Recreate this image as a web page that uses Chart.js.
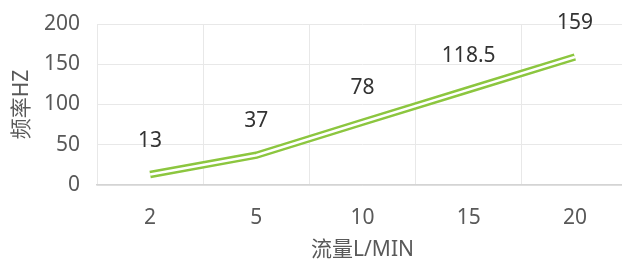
<!DOCTYPE html>
<html>
<head>
<meta charset="utf-8">
<script src="https://cdn.jsdelivr.net/npm/chart.js@4"></script>
<style>
  html, body { margin:0; padding:0; background:#fff; overflow:hidden; }
  #wrap { width:640px; height:264px; position:relative; }
</style>
</head>
<body>
<div id="wrap"><canvas id="c"></canvas></div>
<script>
const flowLabels = ['2', '5', '10', '15', '20'];
const freqValues = [13, 37, 78, 118.5, 159];
const yTicks = [0, 50, 100, 150, 200];

const FONT = "'Noto Sans', 'Noto Sans CJK SC', sans-serif";
const GREEN = '#8cc63f';

// value labels above each point
const valueLabels = {
  id: 'valueLabels',
  afterDatasetsDraw(chart) {
    const { ctx, scales: { x, y } } = chart;
    ctx.save();
    ctx.font = '21px ' + FONT;
    ctx.fillStyle = '#333';
    ctx.textAlign = 'center';
    ctx.textBaseline = 'middle';
    freqValues.forEach((v, i) => {
      ctx.fillText(String(v), x.getPixelForValue(i), y.getPixelForValue(v) - 34);
    });
    ctx.restore();
  }
};

new Chart(document.getElementById('c'), {
  type: 'line',
  data: {
    labels: flowLabels,
    datasets: [
      { data: freqValues, borderColor: GREEN, borderWidth: 7.5, pointRadius: 0, tension: 0, fill: false, order: 2 },
      { data: freqValues, borderColor: '#fff', borderWidth: 2.5, pointRadius: 0, tension: 0, fill: false, order: 1 }
    ]
  },
  options: {
    responsive: true, maintainAspectRatio: false, animation: false,
    layout: { padding: { top: 24, right: 12, left: 0, bottom: 0 } },
    plugins: { legend: { display: false }, tooltip: { enabled: false } },
    scales: {
      x: {
        offset: true,
        grid: { color: '#e8e8e8', drawTicks: false, offset: true },
        border: { color: '#d4d4d4', width: 1.5 },
        ticks: { font: { size: 21, family: FONT }, color: '#595959', padding: 20 },
        title: { display: true, text: '流量L/MIN', font: { size: 21, family: FONT }, color: '#595959', padding: { top: 4, bottom: 1 } },
        afterFit: s => { s.height = 79; s.paddingLeft = 0; s.paddingRight = 0; }
      },
      y: {
        min: 0, max: 200,
        afterBuildTicks: s => { s.ticks = yTicks.map(v => ({ value: v })); },
        grid: { color: '#e8e8e8', drawTicks: false },
        border: { display: false },
        ticks: { font: { size: 21, family: FONT }, color: '#595959', padding: 17 },
        title: { display: true, text: '频率HZ', font: { size: 21, family: FONT }, color: '#595959', padding: { top: 9, bottom: 0 } },
        afterFit: s => { s.width = 97; s.paddingTop = 0; s.paddingBottom = 0; }
      }
    }
  },
  plugins: [valueLabels]
});
</script>
</body>
</html>
